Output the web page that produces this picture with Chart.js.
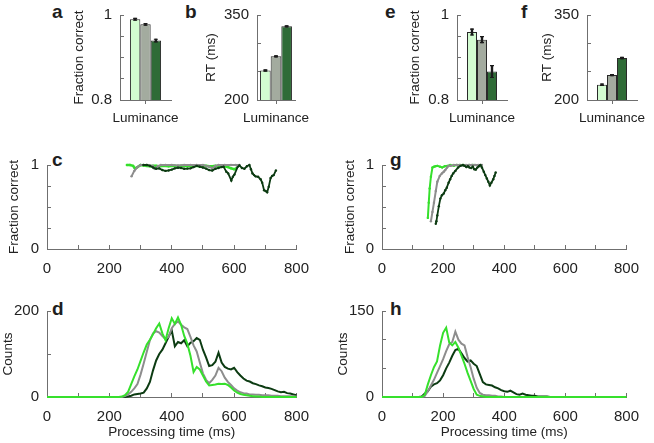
<!DOCTYPE html>
<html>
<head>
<meta charset="utf-8">
<script src="https://cdn.jsdelivr.net/npm/chart.js@4.4.0/dist/chart.umd.min.js"></script>
<style>
  html, body { margin: 0; padding: 0; background: #fff; overflow: hidden; width: 654px; height: 443px; }
  .panel { position: absolute; }
  .tag { position: absolute; font: bold 19px 'Liberation Sans', Arial, sans-serif; line-height: 19px; color: #1e1e1e; }
</style>
</head>
<body>
<div class="tag" style="left:52px;top:2px">a</div>
<div class="tag" style="left:185px;top:2px">b</div>
<div class="tag" style="left:385px;top:2px">e</div>
<div class="tag" style="left:521px;top:2px">f</div>
<div class="tag" style="left:52px;top:150px">c</div>
<div class="tag" style="left:390px;top:150px">g</div>
<div class="tag" style="left:52px;top:299px">d</div>
<div class="tag" style="left:390px;top:299px">h</div>
<script>
// ---- bar panels (a, b, e, f): three luminance levels ----
const luminance = ["Luminance"];
const accLeft = [0.990, 0.978, 0.940];
const accLeftErr = [0.002, 0.002, 0.003];
const rtLeft = [252, 277, 330];
const rtLeftErr = [1, 1, 1];
const accRight = [0.960, 0.942, 0.867];
const accRightErr = [0.007, 0.007, 0.014];
const rtRight = [227, 244, 274];
const rtRightErr = [1.2, 1, 1.2];

const fracTicks = [0.8, 0.85, 0.9, 0.95, 1];
const fracLabels = ["0.8", "", "", "", "1"];
const rtTicks = [200, 250, 300, 350];
const rtLabels = ["200", "", "", "350"];

// ---- panel c / g: fraction correct vs processing time ----
const cGreenT = [256, 266, 276, 282, 290, 300, 310, 320, 330, 340, 350, 360, 370, 380, 390, 400, 410, 420, 430, 440, 450, 460, 470, 480, 490, 500, 510, 520, 530, 540, 550, 560, 570, 580, 590, 600, 607];
const cGreenV = [1, 1, 0.99, 0.957, 0.975, 1, 0.995, 0.99, 0.985, 0.99, 0.99, 0.985, 0.99, 0.99, 0.985, 0.99, 0.99, 0.985, 0.99, 0.99, 0.985, 0.99, 0.99, 0.99, 0.985, 0.99, 0.99, 0.985, 0.985, 0.99, 0.985, 0.98, 0.985, 0.975, 0.96, 0.95, 0.96];
const cGreyT = [271, 280, 290, 300, 310, 320, 330, 340, 345, 355, 365, 380, 400, 420, 440, 460, 480, 500, 520, 530, 540, 550, 570, 590, 605, 617];
const cGreyV = [0.865, 0.93, 0.975, 1, 1, 1, 0.995, 0.99, 0.955, 0.985, 1, 1, 1, 0.995, 1, 1, 1, 1, 0.98, 0.96, 0.99, 1, 1, 1, 1, 1];
const cDarkT = [309, 320, 330, 340, 350, 360, 370, 380, 390, 400, 410, 420, 430, 440, 450, 460, 470, 480, 490, 500, 510, 520, 530, 540, 550, 560, 566, 575, 581, 591, 596, 601, 611, 617, 625, 633, 641, 649, 654, 659, 664, 669, 677, 685, 690, 696, 701, 706, 711, 717, 722, 727, 734];
const cDarkV = [1, 1, 0.99, 0.97, 0.955, 0.96, 0.94, 0.93, 0.935, 0.945, 0.96, 0.968, 0.965, 0.955, 0.957, 0.96, 0.975, 0.99, 0.98, 0.97, 0.957, 0.94, 0.935, 0.955, 0.965, 0.975, 0.98, 0.92, 0.9, 0.815, 0.86, 0.886, 0.975, 0.995, 0.965, 0.955, 0.985, 1, 0.95, 0.9, 0.88, 0.865, 0.86, 0.83, 0.79, 0.7, 0.69, 0.675, 0.74, 0.845, 0.87, 0.88, 0.935];

const gGreenT = [150, 153, 156, 160, 165, 170, 175, 181, 190, 197, 205, 215, 223, 235, 245, 255, 265, 275, 285, 295, 301];
const gGreenV = [0.37, 0.55, 0.72, 0.86, 0.97, 0.98, 0.985, 0.99, 0.98, 0.97, 0.985, 0.99, 1, 0.99, 1, 1, 1, 0.995, 1, 1, 1];
const gGreyT = [160, 165, 170, 176, 181, 189, 196, 202, 207, 213, 218, 225, 235, 245, 255, 265, 275, 285, 295, 305, 315, 327];
const gGreyV = [0.33, 0.44, 0.55, 0.69, 0.8, 0.87, 0.9, 0.92, 0.94, 0.97, 0.99, 0.99, 1, 1, 1, 0.995, 1, 1, 1, 1, 1, 1];
const gDarkT = [176, 178, 181, 186, 191, 196, 202, 207, 212, 218, 223, 228, 233, 240, 249, 257, 265, 270, 276, 281, 286, 292, 297, 302, 307, 312, 317, 322, 327, 333, 338, 343, 348, 353, 358, 364, 368, 372];
const gDarkV = [0.3, 0.33, 0.4, 0.51, 0.6, 0.64, 0.66, 0.7, 0.73, 0.79, 0.83, 0.87, 0.9, 0.93, 0.97, 0.99, 1, 0.99, 0.975, 0.985, 0.97, 0.965, 0.98, 0.95, 0.945, 0.97, 0.985, 1, 0.97, 0.92, 0.88, 0.84, 0.8, 0.757, 0.79, 0.83, 0.87, 0.91];

const fcTicks = [0, 0.25, 0.5, 0.75, 1];
const fcLabels = ["0", "", "", "", "1"];

// ---- panel d / h: counts vs processing time ----
const tD = [0, 200, 210, 220, 230, 240, 250, 260, 270, 280, 290, 300, 310, 320, 330, 340, 350, 360, 370, 380, 390, 400, 410, 420, 430, 440, 450, 460, 470, 480, 490, 500, 510, 520, 530, 540, 550, 560, 570, 580, 590, 600, 610, 620, 630, 640, 650, 660, 670, 680, 690, 700, 710, 720, 730, 740, 750, 760, 770, 780, 790, 800];
const dGreen = [0, 0, 0, 0, 0, 1, 4, 12, 30, 48, 64, 84, 104, 122, 133, 146, 160, 171, 148, 132, 160, 183, 170, 185, 168, 142, 124, 96, 58, 70, 64, 50, 36, 27, 28, 29, 31, 30, 31, 28, 22, 15, 10, 7, 5, 4, 3, 2, 1, 1, 0, 0, 0, 0, 0, 0, 0, 0, 0, 0, 0, 0];
const dGrey = [0, 0, 0, 0, 0, 0, 2, 6, 12, 20, 30, 52, 78, 105, 132, 148, 153, 150, 142, 135, 140, 160, 170, 176, 168, 162, 158, 140, 120, 106, 80, 55, 40, 32, 40, 50, 68, 60, 45, 35, 28, 20, 15, 11, 9, 8, 6, 6, 5, 5, 4, 4, 4, 3, 3, 3, 2, 2, 2, 2, 2, 1];
const dDark = [0, 0, 0, 0, 0, 0, 0, 1, 3, 6, 7, 8, 10, 20, 35, 62, 85, 100, 110, 125, 140, 155, 118, 128, 125, 132, 118, 126, 130, 137, 133, 110, 92, 72, 74, 82, 103, 80, 70, 66, 64, 68, 58, 50, 43, 38, 36, 32, 30, 27, 25, 22, 21, 19, 16, 13, 11, 12, 9, 8, 6, 4];

const tH = [0, 120, 130, 140, 150, 160, 170, 180, 190, 200, 210, 220, 230, 240, 250, 260, 270, 280, 290, 300, 310, 320, 330, 340, 350, 360, 370, 380, 390, 400, 410, 420, 430, 440, 450, 460, 470, 480, 490, 500, 510, 520, 530, 540, 550, 800];
const hGreen = [0, 0, 0, 4, 22, 38, 52, 62, 90, 112, 121, 95, 90, 96, 86, 72, 58, 42, 28, 14, 4, 2, 1, 0, 0, 0, 0, 0, 0, 0, 0, 0, 0, 0, 0, 0, 0, 0, 0, 0, 0, 0, 0, 0, 0, 0];
const hGrey = [0, 0, 0, 2, 10, 20, 30, 42, 54, 66, 80, 92, 96, 114, 100, 93, 90, 70, 52, 32, 16, 7, 4, 3, 3, 2, 2, 1, 1, 0, 0, 0, 0, 0, 0, 0, 0, 0, 0, 0, 0, 0, 0, 0, 0, 0];
const hDark = [0, 0, 1, 6, 10, 18, 22, 24, 29, 38, 50, 60, 72, 82, 84, 76, 68, 62, 64, 58, 54, 40, 26, 22, 21, 20, 17, 15, 12, 10, 9, 11, 8, 5, 4, 6, 4, 3, 2, 2, 1, 1, 1, 1, 0, 0];

const timeTicks = [0, 100, 200, 300, 400, 500, 600, 700, 800];
const timeLabels = ["0", "", "200", "", "400", "", "600", "", "800"];
const countTicksD = [0, 100, 200];
const countLabelsD = ["0", "", "200"];
const countTicksH = [0, 50, 100, 150];
const countLabelsH = ["0", "", "", "150"];

// ---- styling ----
const FONT = "'Liberation Sans', Arial, Helvetica, sans-serif";
const TICK_SIZE = 15;
const TITLE_SIZE = 13.5;
const TITLE_LH = TITLE_SIZE * 1.2;
const AXIS_COLOR = "#6f6f6f";
const TEXT_COLOR = "#222";
const GREEN = "#36e02c";
const GREY = "#8d8d8d";
const DARK = "#0c3b12";
const BAR_COLORS = ["#d3fcd1", "#a3ab9f", "#2f6b37"];

Chart.defaults.font.family = FONT;
Chart.defaults.color = TEXT_COLOR;
Chart.defaults.animation = false;

const errorBars = {
    id: "errorBars",
    afterDatasetsDraw(chart) {
        const ctx = chart.ctx;
        const y = chart.scales.y;
        chart.data.datasets.forEach((ds, i) => {
            if (!ds.errors) return;
            chart.getDatasetMeta(i).data.forEach((bar, j) => {
                const hi = y.getPixelForValue(ds.data[j] + ds.errors[j]);
                const lo = y.getPixelForValue(ds.data[j] - ds.errors[j]);
                ctx.save();
                ctx.strokeStyle = "#1b1b1b";
                ctx.lineWidth = 2.4;
                ctx.beginPath();
                ctx.moveTo(bar.x, hi - 0.5);
                ctx.lineTo(bar.x, lo + 0.5);
                ctx.stroke();
                ctx.lineWidth = 1.2;
                ctx.beginPath();
                ctx.moveTo(bar.x - 2, hi);
                ctx.lineTo(bar.x + 2, hi);
                ctx.moveTo(bar.x - 2, lo);
                ctx.lineTo(bar.x + 2, lo);
                ctx.stroke();
                ctx.restore();
            });
        });
    },
};

// place a canvas so the chart area lands on area (page px)
function makeCanvas(area, yTitleX, xh, padR) {
    const padT = 12;
    const left = Math.round(yTitleX - TITLE_LH / 2);
    const top = area.y0 - padT;
    const w = area.x1 + padR - left;
    const h = area.y1 + xh - top;
    const div = document.createElement("div");
    div.className = "panel";
    div.style.left = left + "px";
    div.style.top = top + "px";
    const cv = document.createElement("canvas");
    cv.width = w;
    cv.height = h;
    cv.style.width = w + "px";
    cv.style.height = h + "px";
    div.appendChild(cv);
    document.body.appendChild(div);
    return { cv, yw: area.x0 - left, padT, padR };
}

function yAxis(ticks, labels, yw, title) {
    return {
        min: ticks[0],
        max: ticks[ticks.length - 1],
        afterBuildTicks: (s) => { s.ticks = ticks.map((v) => ({ value: v })); },
        afterFit: (s) => { s.width = yw; },
        ticks: { callback: (v, i) => labels[i], padding: 12, autoSkip: false, font: { size: TICK_SIZE }, color: TEXT_COLOR },
        grid: { drawOnChartArea: false, tickLength: -4, color: AXIS_COLOR },
        border: { display: true, color: AXIS_COLOR, width: 1 },
        title: { display: true, text: title, padding: 0, font: { size: TITLE_SIZE }, color: TEXT_COLOR },
    };
}

function timeAxis(xh, title) {
    return {
        type: "linear",
        min: 0,
        max: 800,
        afterBuildTicks: (s) => { s.ticks = timeTicks.map((v) => ({ value: v })); },
        afterFit: (s) => { s.height = xh; },
        ticks: { callback: (v, i) => timeLabels[i], padding: 15, maxRotation: 0, autoSkip: false, font: { size: TICK_SIZE }, color: TEXT_COLOR },
        grid: { drawOnChartArea: false, tickLength: -4, color: AXIS_COLOR },
        border: { display: true, color: AXIS_COLOR, width: 1 },
        title: title
            ? { display: true, text: title, padding: 0, font: { size: TITLE_SIZE }, color: TEXT_COLOR }
            : { display: false },
    };
}

function barPanel(area, yTitleX, catPct, values, errors, ticks, labels, yTitle) {
    const xh = 30;
    const p = makeCanvas(area, yTitleX, xh, 26);
    new Chart(p.cv, {
        type: "bar",
        data: {
            labels: luminance,
            datasets: values.map((v, i) => ({
                data: [v],
                errors: [errors[i]],
                backgroundColor: BAR_COLORS[i],
                borderColor: "#2a2a2a",
                borderWidth: 1,
                barPercentage: 1,
                categoryPercentage: catPct,
            })),
        },
        options: {
            responsive: false,
            devicePixelRatio: 1,
            layout: { padding: { left: 0, top: p.padT, right: p.padR, bottom: 0 } },
            plugins: { legend: { display: false }, tooltip: { enabled: false } },
            scales: {
                x: {
                    offset: true,
                    afterFit: (s) => {
                        s.height = xh;
                        // the label is wider than the axis; let it overhang
                        s.paddingLeft = 0;
                        s.paddingRight = 0;
                    },
                    ticks: { padding: 5.9, maxRotation: 0, minRotation: 0, autoSkip: false, font: { size: TITLE_SIZE }, color: TEXT_COLOR },
                    grid: { drawOnChartArea: false, offset: false, tickLength: 4, color: AXIS_COLOR },
                    border: { display: true, color: AXIS_COLOR, width: 1 },
                },
                y: yAxis(ticks, labels, p.yw, yTitle),
            },
        },
        plugins: [errorBars],
    });
}

function series(T, V, color, width, radius) {
    return {
        data: T.map((t, i) => ({ x: t, y: V[i] })),
        borderColor: color,
        backgroundColor: color,
        borderWidth: width,
        pointRadius: radius,
        pointBorderWidth: 0,
        tension: 0,
        clip: 4,
    };
}

function linePanel(area, yTitleX, xh, padR, datasets, yTicks, yLabels, yTitle, xTitle) {
    const p = makeCanvas(area, yTitleX, xh, padR);
    new Chart(p.cv, {
        type: "line",
        data: { datasets },
        options: {
            responsive: false,
            devicePixelRatio: 1,
            layout: { padding: { left: 0, top: p.padT, right: p.padR, bottom: 0 } },
            plugins: { legend: { display: false }, tooltip: { enabled: false } },
            scales: {
                x: timeAxis(xh, xTitle),
                y: yAxis(yTicks, yLabels, p.yw, yTitle),
            },
        },
    });
}

// top row bars
barPanel({ x0: 120, y0: 6, x1: 171, y1: 100 }, 79, 0.61, accLeft, accLeftErr, fracTicks, fracLabels, "Fraction correct");
barPanel({ x0: 257, y0: 6, x1: 295, y1: 100 }, 211, 0.84, rtLeft, rtLeftErr, rtTicks, rtLabels, "RT (ms)");
barPanel({ x0: 457, y0: 6, x1: 507, y1: 100 }, 415, 0.6, accRight, accRightErr, fracTicks, fracLabels, "Fraction correct");
barPanel({ x0: 587, y0: 6, x1: 637, y1: 100 }, 547, 0.6, rtRight, rtRightErr, rtTicks, rtLabels, "RT (ms)");

// middle row: fraction correct
linePanel({ x0: 47, y0: 156, x1: 302, y1: 249 }, 14, 30, 22, [
    series(cDarkT, cDarkV, DARK, 1.8, 1.2),
    series(cGreyT, cGreyV, GREY, 2, 1.2),
    series(cGreenT, cGreenV, GREEN, 2.6, 1.2),
], fcTicks, fcLabels, "Fraction correct", null);
linePanel({ x0: 382, y0: 156, x1: 637, y1: 249 }, 350, 30, 17, [
    series(gDarkT, gDarkV, DARK, 1.8, 1.2),
    series(gGreyT, gGreyV, GREY, 2, 1.2),
    series(gGreenT, gGreenV, GREEN, 2, 1.2),
], fcTicks, fcLabels, "Fraction correct", null);

// bottom row: counts
linePanel({ x0: 47, y0: 302, x1: 302, y1: 397 }, 8, 43, 22, [
    series(tD, dGreen, GREEN, 2, 0),
    series(tD, dGrey, GREY, 2, 0),
    series(tD, dDark, DARK, 2, 0),
], countTicksD, countLabelsD, "Counts", "Processing time (ms)");
linePanel({ x0: 382, y0: 302, x1: 637, y1: 397 }, 343, 43, 17, [
    series(tH, hGreen, GREEN, 2, 0),
    series(tH, hGrey, GREY, 2, 0),
    series(tH, hDark, DARK, 2, 0),
], countTicksH, countLabelsH, "Counts", "Processing time (ms)");
</script>
</body>
</html>
